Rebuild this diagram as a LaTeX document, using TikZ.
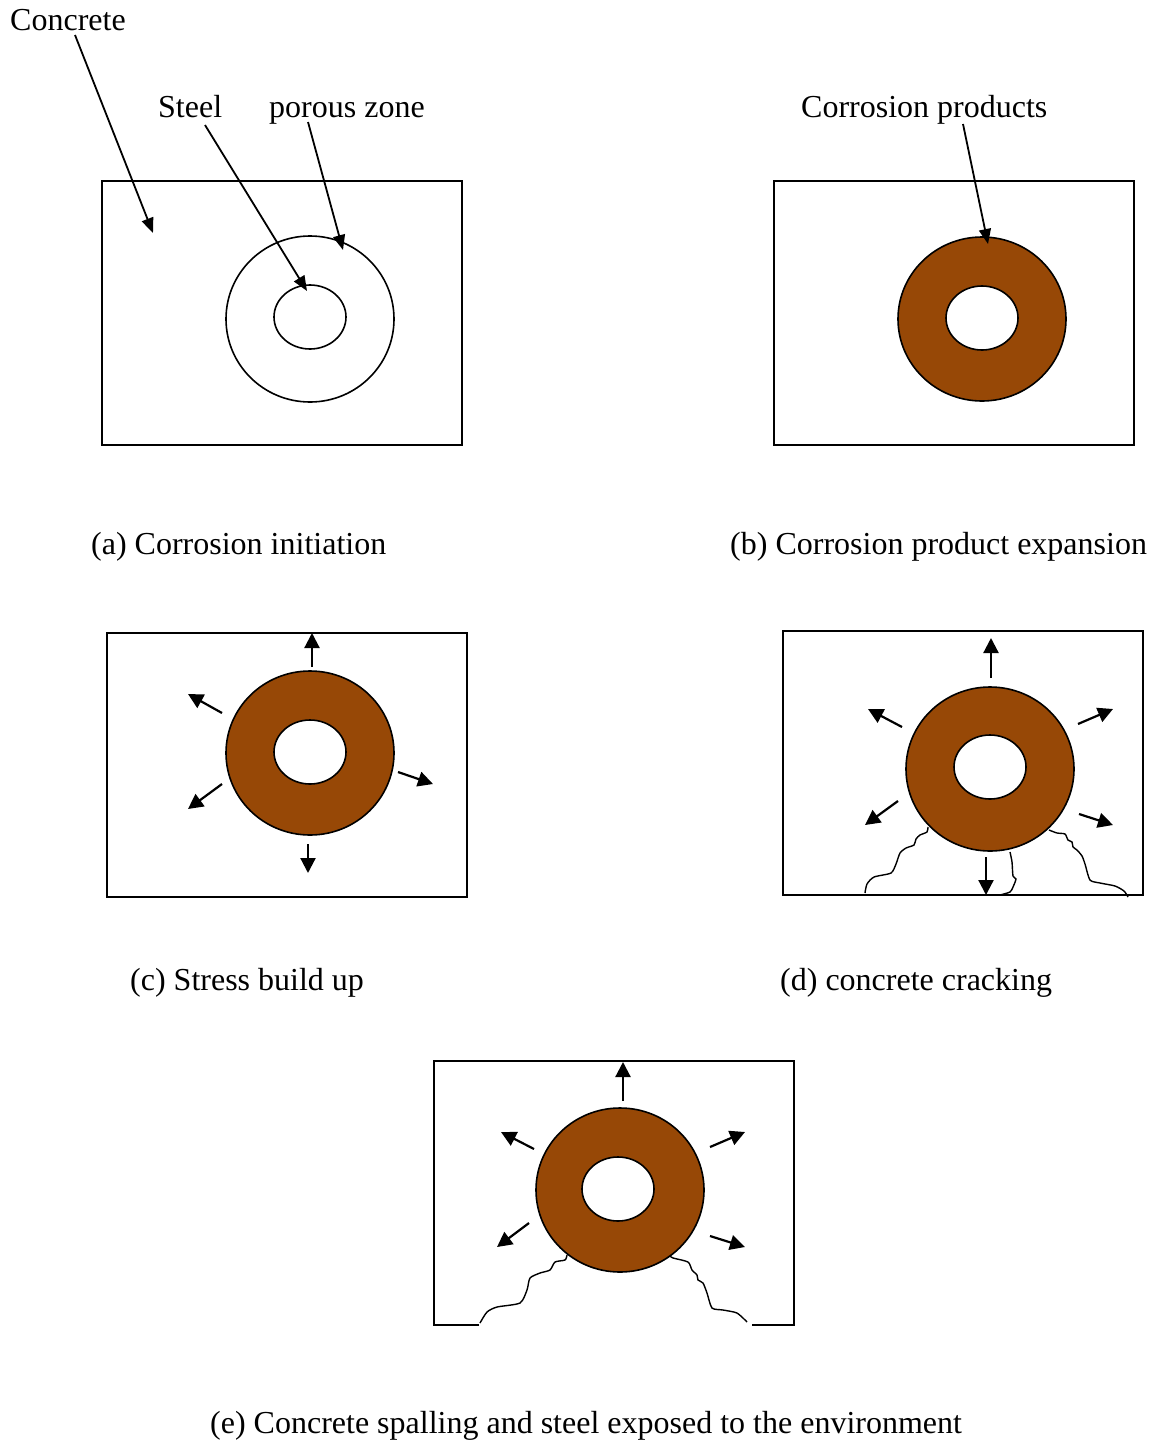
\documentclass[tikz,border=0pt]{standalone}
\usepackage{fontspec}
\setmainfont{Liberation Serif}
\usetikzlibrary{arrows.meta}
\definecolor{rust}{RGB}{151,72,6}
\begin{document}
\begin{tikzpicture}[x=1pt,y=-1pt,
 lbl/.style={inner sep=0pt, anchor=base west, font=\fontsize{32}{38}\selectfont},
 box/.style={draw, line width=1.6pt},
 ringline/.style={draw, line width=1.6pt},
 ptr/.style={line width=1.8pt, -{Triangle[length=15pt,width=12pt]}},
 push/.style={line width=2.2pt, -{Triangle[length=15pt,width=15pt]}},
 crack/.style={line width=1.4pt},
]
\useasboundingbox (0,0) rectangle (1151,1443);

% ---------- (a)
\draw[box] (102,181) rectangle (462,445);
\draw[ringline] (310,319) ellipse [x radius=84, y radius=83];
\draw[ringline] (310,317) ellipse [x radius=36, y radius=32];
\node[lbl] (concrete) at (10,30) {Concrete};
\node[lbl] (steel) at (158,117) {Steel};
\node[lbl] (porous) at (269,117) {porous zone};
\coordinate (c1s) at (75,35); \coordinate (c1e) at (153,233);
\coordinate (s1s) at (205,125); \coordinate (s1e) at (307,291);
\coordinate (p1s) at (308,122); \coordinate (p1e) at (343,250);
\draw[ptr] (c1s) -- (c1e);
\draw[ptr] (s1s) -- (s1e);
\draw[ptr] (p1s) -- (p1e);
\node[lbl] (capa) at (91,554) {(a) Corrosion initiation};

% ---------- (b)
\draw[box] (774,181) rectangle (1134,445);
\fill[rust] (982,319) ellipse [x radius=84, y radius=82];
\draw[ringline] (982,319) ellipse [x radius=84, y radius=82];
\draw[ringline, fill=white] (982,318) ellipse [x radius=36, y radius=32];
\node[lbl] (corr) at (801,117) {Corrosion products};
\coordinate (b1s) at (963,124); \coordinate (b1e) at (988,244);
\draw[ptr] (b1s) -- (b1e);
\node[lbl] (capb) at (730,554) {(b) Corrosion product expansion};

% ---------- (c)
\draw[box] (107,633) rectangle (467,897);
\draw[ringline, fill=rust] (310,753) ellipse [x radius=84, y radius=82];
\draw[ringline, fill=white] (310,752) ellipse [x radius=36, y radius=32];
\draw[push] (312,667) -- (312,633);
\draw[push] (308,844) -- (308,873);
\draw[push] (222,713) -- (188,694);
\draw[push] (222,784) -- (188,809);
\draw[push] (398,772) -- (433,784);
\node[lbl] (capc) at (130,990) {(c) Stress build up};

% ---------- (d)
\draw[box] (783,631) rectangle (1143,895);
\draw[crack] plot[smooth, tension=0.4] coordinates {(928,827) (927,832) (920,835) (916,839) (914,845) (906,848) (900,853) (896,864) (891,873) (874,877) (867,884) (865,893)};
\draw[crack] plot[smooth, tension=0.4] coordinates {(1010,852) (1012,862) (1013,876) (1016,879) (1013,887) (1010,892) (1000,895)};
\draw[crack] plot[smooth, tension=0.4] coordinates {(1049,830) (1057,833) (1065,834) (1068,840) (1072,842) (1073,847) (1077,850) (1082,856) (1085,864) (1090,880) (1100,883) (1115,886) (1124,891) (1128,897)};
\draw[ringline, fill=rust] (990,769) ellipse [x radius=84, y radius=82];
\draw[ringline, fill=white] (990,767) ellipse [x radius=36, y radius=32];
\draw[push] (991,678) -- (991,638);
\draw[push] (902,727) -- (868,709);
\draw[push] (1078,724) -- (1113,709);
\draw[push] (898,801) -- (865,825);
\draw[push] (1079,814) -- (1113,825);
\draw[push] (986,857) -- (986,895);
\node[lbl] (capd) at (780,990) {(d) concrete cracking};

% ---------- (e)
\draw[box] (479,1325) -- (434,1325) -- (434,1061) -- (794,1061) -- (794,1325) -- (752,1325);
\draw[crack] plot[smooth, tension=0.4] coordinates {(567,1255) (565,1260) (555,1262) (550,1270) (540,1273) (530,1278) (527,1290) (520,1303) (497,1307) (487,1312) (480,1323)};
\draw[crack] plot[smooth, tension=0.4] coordinates {(670,1256) (673,1258) (688,1262) (692,1270) (697,1275) (698,1280) (703,1283) (707,1293) (712,1308) (723,1310) (737,1313) (747,1322)};
\draw[ringline, fill=rust] (620,1190) ellipse [x radius=84, y radius=82];
\draw[ringline, fill=white] (618,1189) ellipse [x radius=36, y radius=32];
\draw[push] (623,1101) -- (623,1062);
\draw[push] (534,1149) -- (501,1132);
\draw[push] (710,1147) -- (745,1132);
\draw[push] (529,1223) -- (497,1247);
\draw[push] (710,1236) -- (745,1247);
\node[lbl] (cape) at (210,1433) {(e) Concrete spalling and steel exposed to the environment};
\end{tikzpicture}
\end{document}
